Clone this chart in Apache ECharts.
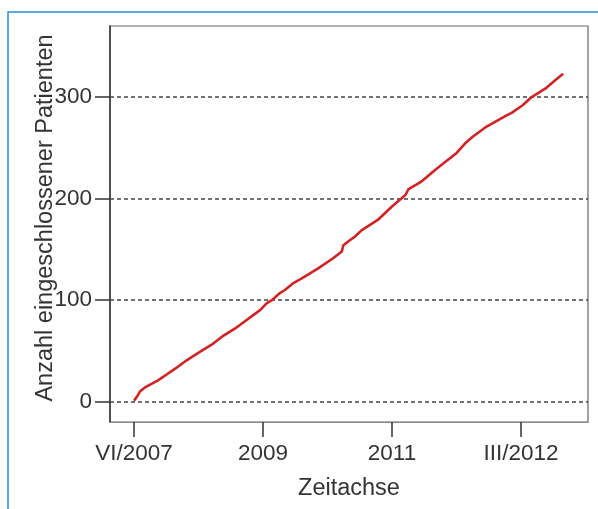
<!DOCTYPE html>
<html>
<head>
<meta charset="utf-8">
<script src="https://cdn.jsdelivr.net/npm/echarts@6/dist/echarts.min.js"></script>
<style>
html,body{margin:0;padding:0;background:#fff;}
#chart{width:598px;height:509px;}
</style>
</head>
<body>
<div id="chart"></div>
<script>
// x positions are in units of the (equally spaced) labelled time ticks
const xTickValues = [0, 1, 2, 3];
const xTickLabels = ['VI/2007', '2009', '2011', 'III/2012'];
const yTickValues = [0, 100, 200, 300];
// cumulative number of enrolled patients
const timePos = [0.00, 0.023, 0.046, 0.085, 0.186, 0.256, 0.325, 0.411, 0.511, 0.612, 0.682, 0.782, 0.821, 0.868, 0.922, 0.976, 1.030, 1.069, 1.131, 1.170, 1.232, 1.301, 1.425, 1.541, 1.611, 1.623, 1.673, 1.712, 1.766, 1.890, 1.998, 2.091, 2.107, 2.126, 2.231, 2.332, 2.432, 2.502, 2.564, 2.626, 2.734, 2.889, 2.928, 3.013, 3.083, 3.191, 3.261, 3.327];
const patients = [1, 5, 10, 14, 21, 27, 33, 41, 49, 57, 64, 72, 75.5, 80, 85, 90, 97, 100, 107, 110, 116.5, 121.5, 131, 141, 148, 154, 159, 162.5, 169, 179, 192, 202, 204, 209, 217, 228, 238, 245, 254, 261, 271, 282, 284.5, 292, 300, 308.5, 316, 323];

const font = "'Liberation Sans', Arial, Helvetica, sans-serif";
const chart = echarts.init(document.getElementById('chart'), null, {renderer: 'canvas'});
chart.setOption({
  animation: false,
  backgroundColor: '#fff',
  graphic: [{
    type: 'rect',
    shape: {x: 8, y: 12, width: 620, height: 520},
    style: {fill: 'none', stroke: '#2a8fd4', lineWidth: 1.5},
    silent: true
  }],
  grid: {
    left: 110, right: 10, top: 26, bottom: 87,
    show: true, borderColor: '#666', borderWidth: 1.2, backgroundColor: 'transparent'
  },
  xAxis: {
    type: 'value',
    min: -0.186, max: 3.52,
    name: 'Zeitachse',
    nameLocation: 'middle',
    nameGap: 55,
    nameMoveOverlap: false,
    nameTextStyle: {fontSize: 23.5, color: '#333', fontFamily: font},
    axisLine: {show: true, onZero: false, lineStyle: {color: '#888', width: 1.2}},
    axisTick: {show: true, customValues: xTickValues, length: 15, lineStyle: {color: '#333', width: 1.5}},
    axisLabel: {
      customValues: xTickValues, margin: 20, fontSize: 22.5, color: '#333', fontFamily: font,
      formatter: v => { const i = xTickValues.indexOf(v); return i >= 0 ? xTickLabels[i] : ''; }
    },
    splitLine: {show: false}
  },
  yAxis: {
    type: 'value',
    min: -20, max: 370,
    name: 'Anzahl eingeschlossener Patienten',
    nameLocation: 'middle',
    nameGap: 52,
    nameMoveOverlap: false,
    nameRotate: 90,
    nameTextStyle: {fontSize: 23.5, color: '#333', fontFamily: font, padding: [0, 0, 0, 12]},
    axisLine: {show: true, onZero: false, lineStyle: {color: '#333', width: 1.5}},
    axisTick: {show: true, customValues: yTickValues, length: 15, lineStyle: {color: '#333', width: 1.5}},
    axisLabel: {customValues: yTickValues, margin: 18, fontSize: 22.5, color: '#333', fontFamily: font},
    splitLine: {show: false}
  },
  series: [{
    type: 'line',
    data: timePos.map((x, i) => [x, patients[i]]),
    showSymbol: false,
    symbol: 'none',
    lineStyle: {color: '#d42224', width: 2.6},
    z: 3,
    markLine: {
      silent: true,
      symbol: 'none',
      label: {show: false},
      lineStyle: {color: '#444', type: [4, 3], width: 1.5},
      data: yTickValues.map(v => ({yAxis: v})),
      z: 1
    }
  }]
});
</script>
</body>
</html>
